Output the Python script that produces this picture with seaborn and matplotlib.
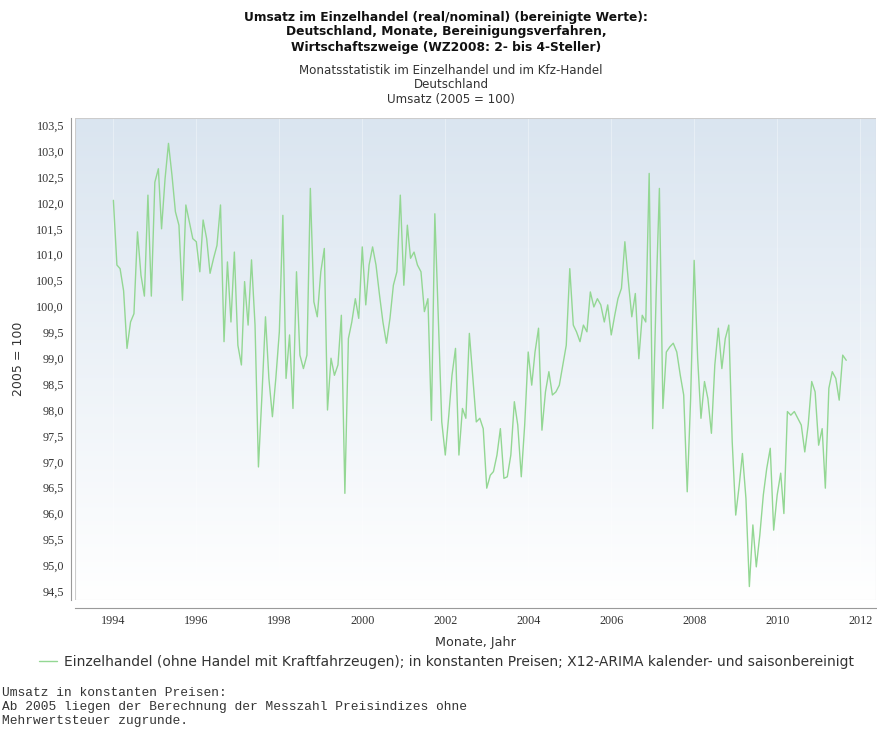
import numpy as np
import pandas as pd
import matplotlib.pyplot as plt
import matplotlib.dates as mdates
from matplotlib.colors import LinearSegmentedColormap
from matplotlib.patches import Rectangle
from matplotlib.ticker import FuncFormatter, MultipleLocator
import seaborn as sns

# Umsatzindex Einzelhandel (2005 = 100), monatlich ab Januar 1994
umsatz_1994_1998 = [
    102.05, 100.8, 100.73, 100.3, 99.19, 99.7, 99.86, 101.44, 100.6, 100.2,
    102.15, 100.2, 102.4, 102.66, 101.5, 102.47, 103.15, 102.53, 101.83, 101.57,
    100.12, 101.96, 101.63, 101.31, 101.25, 100.67, 101.67, 101.31, 100.64, 100.93,
    101.18, 101.96, 99.32, 100.86, 99.7, 101.05, 99.25, 98.87, 100.48, 99.64,
    100.9, 99.64, 96.9, 98.29, 99.8, 98.61, 97.87, 98.61, 99.51, 101.76,
    98.61, 99.45,
]
umsatz_1998_2002 = [
    98.03, 100.67, 99.06, 98.8, 99.06, 102.28, 100.09, 99.8, 100.67, 101.12,
    98.0, 99.0, 98.67, 98.87, 99.83, 96.39, 99.38, 99.7, 100.15, 99.77,
    101.15, 100.03, 100.8, 101.15, 100.8, 100.22, 99.7, 99.29, 99.77, 100.41,
    100.67, 102.15, 100.41, 101.57, 100.93, 101.05, 100.8, 100.67, 99.9, 100.15,
    97.8, 101.79, 99.77, 97.77, 97.13, 97.9, 98.67, 99.19, 97.13, 98.03,
    97.84, 99.48, 98.61, 97.77,
]
umsatz_2002_2007 = [
    97.84, 97.64, 96.49, 96.74, 96.81, 97.13, 97.64, 96.68, 96.71, 97.13,
    98.16, 97.71, 96.71, 97.71, 99.12, 98.48, 99.12, 99.58, 97.61, 98.35,
    98.74, 98.29, 98.35, 98.48, 98.87, 99.25, 100.73, 99.64, 99.51, 99.32,
    99.64, 99.51, 100.28, 99.99, 100.15, 100.03, 99.7, 100.03, 99.45, 99.83,
    100.15, 100.35, 101.25, 100.48, 99.8, 100.25, 98.99, 99.83, 99.7, 102.57,
    97.64, 100.28,
]
umsatz_2007_2011 = [
    102.28, 98.03, 99.12, 99.22, 99.29, 99.12, 98.67, 98.29, 96.42, 98.22,
    100.89, 98.99, 97.84, 98.55, 98.22, 97.55, 98.87, 99.58, 98.8, 99.38,
    99.64, 97.39, 95.97, 96.55, 97.16, 96.29, 94.59, 95.78, 94.97, 95.58,
    96.36, 96.87, 97.26, 95.68, 96.36, 96.78, 96.0, 97.97, 97.9, 97.97,
    97.84, 97.71, 97.19, 97.71, 98.55, 98.35, 97.32, 97.64, 96.49, 98.42,
    98.74, 98.61, 98.19, 99.06, 98.96,
]
umsatz = umsatz_1994_1998 + umsatz_1998_2002 + umsatz_2002_2007 + umsatz_2007_2011
monate = pd.date_range("1994-01-01", periods=len(umsatz), freq="MS")
tick_jahre = list(range(1994, 2013, 2))

serie_label = ("Einzelhandel (ohne Handel mit Kraftfahrzeugen); in konstanten Preisen; "
               "X12-ARIMA kalender- und saisonbereinigt")

df = pd.DataFrame({"Monat": monate, "Umsatz": umsatz})

sns.set_theme(style="white")
plt.rcParams["font.family"] = ["DejaVu Sans"]

W, H = 877, 745
fig = plt.figure(figsize=(W / 100, H / 100), dpi=100)
ax = fig.add_axes([75 / W, 1 - 600 / H, (876 - 75) / W, (600 - 118) / H])
ax.set_facecolor("none")

# Hintergrund mit Verlauf (hellblau oben -> weiss unten)
cmap = LinearSegmentedColormap.from_list("bg", ["#dae5f0", "#ffffff"])
grad = np.linspace(0, 1, 256).reshape(-1, 1)
ax.imshow(grad, cmap=cmap, extent=[0, 1, 0, 1], transform=ax.transAxes,
          aspect="auto", origin="upper", zorder=0)

sns.lineplot(data=df, x="Monat", y="Umsatz", ax=ax, color="#93d793",
             linewidth=1.0, label=serie_label, zorder=3)
ax.get_legend().remove()

ax.set_xlim(pd.Timestamp("1993-01-28"), pd.Timestamp("2012-05-20"))
ax.set_ylim(94.33, 103.64)

ax.set_xticks([pd.Timestamp(f"{j}-01-01") for j in tick_jahre])
ax.xaxis.set_major_formatter(mdates.DateFormatter("%Y"))
ax.yaxis.set_major_locator(MultipleLocator(0.5))
ax.yaxis.set_major_formatter(FuncFormatter(lambda v, p: f"{v:.1f}".replace(".", ",")))

for s in ["top", "right"]:
    ax.spines[s].set_visible(False)
ax.spines["left"].set_position(("outward", 3))
ax.spines["bottom"].set_position(("outward", 6))
for s in ["left", "bottom"]:
    ax.spines[s].set_color("#9a9a9a")
    ax.spines[s].set_linewidth(0.8)
ax.add_patch(Rectangle((0, 0), 1, 1, transform=ax.transAxes, fill=False,
                       edgecolor="#cccccc", linewidth=0.8, zorder=4))

ax.tick_params(axis="both", which="major", length=3, width=0.6, color="#9a9a9a",
               labelcolor="#333333", pad=2)
for lab in ax.get_xticklabels() + ax.get_yticklabels():
    lab.set_family("Liberation Serif")
    lab.set_fontsize(8.7)

ax.grid(axis="x", color="white", linewidth=0.8, alpha=0.35)

ax.set_xlabel("Monate, Jahr", fontsize=9.2, color="#333333", labelpad=6)
ax.set_ylabel("2005 = 100", fontsize=9, color="#333333", labelpad=8)

# Titel
titel = ["Umsatz im Einzelhandel (real/nominal) (bereinigte Werte):",
         "Deutschland, Monate, Bereinigungsverfahren,",
         "Wirtschaftszweige (WZ2008: 2- bis 4-Steller)"]
for t, y in zip(titel, [17, 32, 47]):
    fig.text(446 / W, 1 - y / H, t, ha="center", va="center", fontsize=8.8,
             fontweight="bold", color="#111111")
untertitel = ["Monatsstatistik im Einzelhandel und im Kfz-Handel",
              "Deutschland", "Umsatz (2005 = 100)"]
for t, y in zip(untertitel, [71, 85, 99]):
    fig.text(451 / W, 1 - y / H, t, ha="center", va="center", fontsize=8.6,
             color="#333333")

handles, labels = ax.get_legend_handles_labels()
fig.legend(handles, labels, loc="center", bbox_to_anchor=(446 / W, 1 - 662 / H),
           frameon=False, fontsize=10, handlelength=1.3, handletextpad=0.5,
           labelcolor="#333333")

fuss = ["Umsatz in konstanten Preisen:",
        "Ab 2005 liegen der Berechnung der Messzahl Preisindizes ohne",
        "Mehrwertsteuer zugrunde."]
for t, y in zip(fuss, [693, 707, 721]):
    fig.text(2 / W, 1 - y / H, t, ha="left", va="center", fontsize=9.3,
             family="Liberation Mono", color="#333333")

fig.savefig("out.png", dpi=100)
